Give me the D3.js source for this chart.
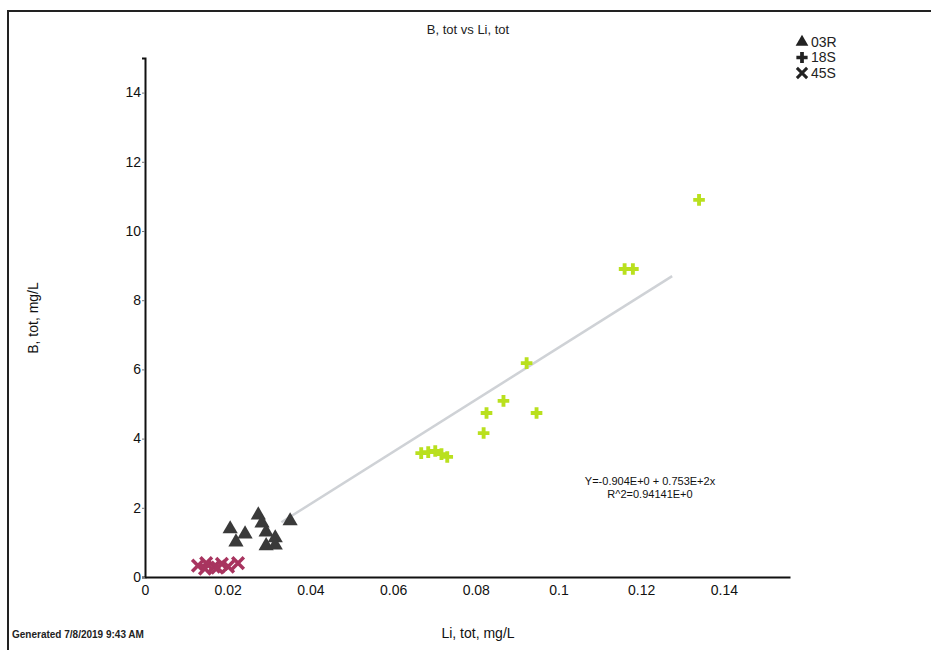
<!DOCTYPE html>
<html>
<head>
<meta charset="utf-8">
<script src="https://cdn.jsdelivr.net/npm/d3@7"></script>
<style>
  body { margin: 0; background: #fff; }
  svg { display: block; font-family: "Liberation Sans", Arial, sans-serif; }
</style>
</head>
<body>
<div id="container"></div>
<script>
// Series values (Li, tot in mg/L ; B, tot in mg/L)
const li03R = [0.0206, 0.0242, 0.0274, 0.0283, 0.0293, 0.0315, 0.0220, 0.0293, 0.0315, 0.0351];
const b03R  = [1.39, 1.24, 1.79, 1.56, 1.30, 1.13, 1.01, 0.90, 0.92, 1.62];

const li18S = [0.0668, 0.0685, 0.0702, 0.0717, 0.0731, 0.0819, 0.0826, 0.0867, 0.0923, 0.0947, 0.1160, 0.1180, 0.1340];
const b18S  = [3.58, 3.61, 3.64, 3.55, 3.47, 4.16, 4.74, 5.09, 6.18, 4.74, 8.90, 8.90, 10.90];

const li45S = [0.0128, 0.0148, 0.0167, 0.0186, 0.0201, 0.0225, 0.0145, 0.0175];
const b45S  = [0.33, 0.40, 0.30, 0.38, 0.30, 0.40, 0.24, 0.27];

const seriesNames = ["03R", "18S", "45S"];
const xTicks = [0, 0.02, 0.04, 0.06, 0.08, 0.1, 0.12, 0.14];
const yTicks = [0, 2, 4, 6, 8, 10, 12, 14];

// fit line: Y = -0.904 + 75.3 x
const fitIntercept = -0.904;
const fitSlope = 75.3;
const fitRange = [0.033, 0.1275];

const width = 931;
const height = 650;

const svg = d3.select("#container").append("svg")
    .attr("width", width)
    .attr("height", height);

// outer frame (runs off the right and bottom like the scan)
svg.append("rect")
    .attr("x", 8).attr("y", 11)
    .attr("width", width + 10).attr("height", height + 10)
    .attr("fill", "none")
    .attr("stroke", "#222")
    .attr("stroke-width", 2);

const x = d3.scaleLinear().domain([0, 0.156]).range([145, 790]);
const y = d3.scaleLinear().domain([0, 15]).range([577, 58]);

// axes
const xAxis = svg.append("g")
    .attr("transform", `translate(0,${y(0)})`)
    .call(d3.axisBottom(x).tickValues(xTicks).tickSize(0).tickPadding(8)
        .tickFormat(d => d === 0 ? "0" : String(d)));
const yAxis = svg.append("g")
    .attr("transform", `translate(${x(0)},0)`)
    .call(d3.axisLeft(y).tickValues(yTicks).tickSize(3).tickPadding(1));

[xAxis, yAxis].forEach(g => {
    g.select(".domain").attr("stroke", "#111").attr("stroke-width", 2);
    g.selectAll("text").attr("fill", "#111").attr("font-size", 14)
        .attr("font-family", "'Liberation Sans', Arial, sans-serif");
    g.selectAll(".tick line").attr("stroke", "#777");
});
yAxis.selectAll(".tick text").attr("dy", "0.3em");

// regression line
svg.append("line")
    .attr("x1", x(fitRange[0])).attr("y1", y(fitIntercept + fitSlope * fitRange[0]))
    .attr("x2", x(fitRange[1])).attr("y2", y(fitIntercept + fitSlope * fitRange[1]))
    .attr("stroke", "#cfd2d6")
    .attr("stroke-width", 2.5);

const sym = {
    "03R": d3.symbol().type(d3.symbolTriangle).size(100),
    "18S": d3.symbol().type(d3.symbolCross).size(75),
    "45S": d3.symbol().type(d3.symbolX).size(90)
};
const colors = { "03R": "#3a3a3a", "18S": "#b9e01e", "45S": "#a8345f" };

const series = [
    { name: "03R", li: li03R, b: b03R },
    { name: "18S", li: li18S, b: b18S },
    { name: "45S", li: li45S, b: b45S }
];

series.forEach(s => {
    const pts = s.li.map((v, i) => ({ li: v, b: s.b[i] }));
    const g = s.name === "45S" ? svg.insert("g", "g") : svg.append("g");
    g.selectAll("path")
        .data(pts)
        .join("path")
        .attr("transform", d => `translate(${x(d.li)},${y(d.b)})`)
        .attr("d", sym[s.name])
        .attr("fill", colors[s.name])
        .attr("stroke", s.name === "45S" ? colors[s.name] : "none")
        .attr("stroke-width", s.name === "45S" ? 3.5 : 0)
        .attr("stroke-linejoin", "round");
});

// title
svg.append("text")
    .attr("x", 468).attr("y", 34)
    .attr("text-anchor", "middle")
    .attr("font-size", 13)
    .attr("fill", "#222")
    .text("B, tot vs Li, tot");

// legend
const legend = svg.append("g").attr("transform", "translate(802,42)");
seriesNames.forEach((n, i) => {
    legend.append("path")
        .attr("transform", `translate(0,${i * 15.5})`)
        .attr("d", d3.symbol().type(n === "03R" ? d3.symbolTriangle : n === "18S" ? d3.symbolCross : d3.symbolX).size(70))
        .attr("fill", "#222")
        .attr("stroke", n === "45S" ? "#222" : "none")
        .attr("stroke-width", 3);
    legend.append("text")
        .attr("x", 9).attr("y", i * 15.5)
        .attr("dy", "0.35em")
        .attr("font-size", 14)
        .attr("fill", "#222")
        .text(n);
});

// fit equation
svg.append("text")
    .attr("x", 650).attr("y", 485)
    .attr("text-anchor", "middle")
    .attr("font-size", 11)
    .attr("fill", "#111")
    .text("Y=-0.904E+0 + 0.753E+2x");
svg.append("text")
    .attr("x", 650).attr("y", 498)
    .attr("text-anchor", "middle")
    .attr("font-size", 11)
    .attr("fill", "#111")
    .text("R^2=0.94141E+0");

// axis titles
svg.append("text")
    .attr("x", 478).attr("y", 638)
    .attr("text-anchor", "middle")
    .attr("font-size", 14)
    .attr("fill", "#111")
    .text("Li, tot, mg/L");
svg.append("text")
    .attr("transform", "translate(38,318) rotate(-90)")
    .attr("text-anchor", "middle")
    .attr("font-size", 14)
    .attr("fill", "#111")
    .text("B, tot, mg/L");

svg.append("text")
    .attr("x", 12).attr("y", 638)
    .attr("font-size", 10)
    .attr("font-weight", "bold")
    .attr("fill", "#222")
    .text("Generated 7/8/2019 9:43 AM");
</script>
</body>
</html>
